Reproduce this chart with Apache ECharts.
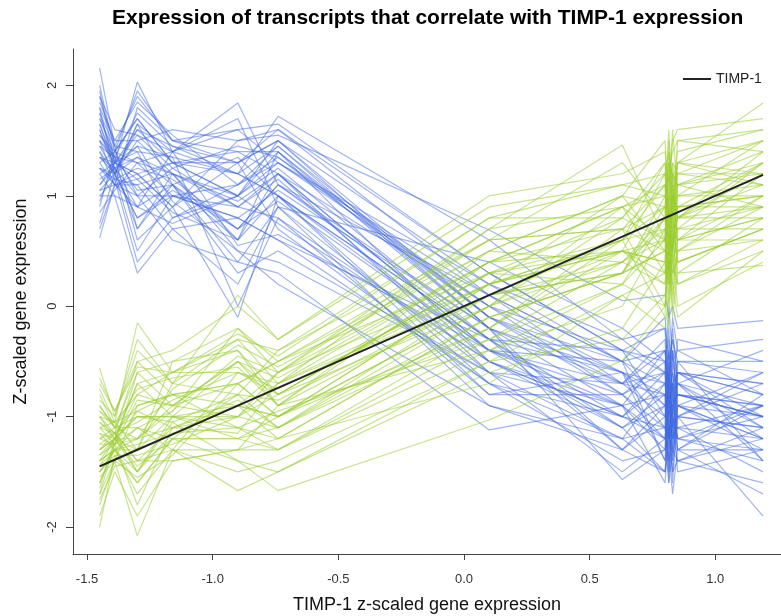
<!DOCTYPE html>
<html>
<head>
<meta charset="utf-8">
<title>TIMP-1 correlated transcripts</title>
<script src="https://cdn.jsdelivr.net/npm/echarts@6/dist/echarts.min.js"></script>
<style>
  html, body { margin: 0; padding: 0; background: #fff; }
  #chart { width: 781px; height: 616px; }
</style>
</head>
<body>
<div id="chart"></div>
<script>
// samples, ordered by TIMP-1 z-score (x position of every line)
const sampleX = [-1.45, -1.39, -1.30, -1.16, -0.90, -0.74, 0.10, 0.63, 0.80, 0.815, 0.83, 0.85, 1.19]
// TIMP-1 itself, plotted against its own z-score
const timp1 = [-1.45, -1.39, -1.30, -1.16, -0.90, -0.74, 0.10, 0.63, 0.80, 0.815, 0.83, 0.85, 1.19]
const xTicks = [-1.5, -1.0, -0.5, 0.0, 0.5, 1.0]
const yTicks = [-2, -1, 0, 1, 2]

// transcripts negatively correlated with TIMP-1 (blue)
const blueGenes = [
  [2.16, 1.45, 1.9, 1.5, 1.3, 1.6, 0.3, -0.4, -0.6, -0.2, -0.9, -0.5, -0.6],
  [1.95, 1.3, 2.03, 1.4, 1.84, 1.1, 0.1, -0.7, -0.3, -1.0, -0.5, -0.8, -0.9],
  [1.8, 1.2, 1.6, 1.3, 1.0, 1.5, -0.2, -0.9, -1.2, -0.6, -1.4, -0.7, -1.1],
  [1.7, 1.35, 1.75, 1.45, 1.2, 1.72, 0.6, -0.3, -0.2, -0.8, -0.1, -0.4, -0.3],
  [1.6, 1.25, 0.9, 1.1, 0.6, 1.4, -0.5, -1.1, -0.8, -1.5, -1.0, -1.2, -1.3],
  [1.5, 1.3, 1.2, 0.9, -0.1, 1.0, -0.8, -0.6, -1.4, -1.0, -1.6, -0.9, -1.0],
  [1.4, 1.2, 0.5, 1.0, 0.8, 0.6, -0.3, -1.3, -0.9, -1.3, -0.6, -1.1, -1.5],
  [1.3, 1.1, 1.8, 1.5, 1.6, 1.3, 0.2, -0.5, -0.1, -0.5, -0.3, -0.6, -0.7],
  [1.25, 1.15, 1.1, 1.2, 0.5, 0.4, -0.6, -1.5, -1.2, -1.6, -1.3, -1.0, -1.9],
  [1.1, 1.3, 1.4, 0.8, 1.1, 1.45, -0.1, -0.8, -0.5, -1.2, -0.8, -1.3, -0.8],
  [1.0, 1.0, 0.3, 0.7, 0.2, 0.9, -0.9, -1.2, -1.5, -0.9, -1.2, -0.7, -1.2],
  [0.9, 1.4, 1.7, 1.3, 1.4, 1.2, -0.4, -0.7, -0.4, -0.7, -1.0, -0.5, -1.4],
  [0.75, 1.2, 0.8, 1.0, 0.9, 0.8, -0.5, -1.0, -1.1, -1.4, -0.7, -1.2, -0.9],
  [0.62, 1.1, 1.0, 0.6, 0.4, 0.3, -1.12, -0.9, -1.6, -1.1, -1.5, -1.4, -1.1],
  [1.85, 1.5, 1.5, 1.6, 1.5, 1.55, 0.69, 0.05, 0.1, -0.1, 0.0, -0.2, -0.13],
  [2.0, 1.4, 1.3, 1.2, 1.0, 1.3, 0.0, -0.6, -0.7, -0.4, -0.8, -0.3, -0.5],
  [1.55, 1.35, 0.6, 0.9, 1.3, 0.7, -0.7, -1.0, -0.6, -1.2, -0.9, -0.8, -1.0],
  [1.35, 1.25, 1.35, 1.1, 0.7, 1.1, -0.2, -1.57, -1.3, -0.8, -1.1, -1.4, -1.6],
  [1.2, 1.0, 0.9, 1.4, 1.2, 1.0, -0.3, -0.4, -1.0, -0.6, -0.4, -0.9, -0.6],
  [1.45, 1.2, 1.65, 1.1, 0.3, 0.5, -0.6, -1.2, -0.7, -1.5, -1.2, -1.1, -1.2],
  [1.05, 1.1, 1.2, 0.9, 1.5, 1.6, 0.1, -0.5, -0.9, -0.3, -0.6, -0.8, -0.9],
  [1.75, 1.45, 0.7, 1.2, 0.6, 1.2, -0.4, -1.1, -1.5, -1.3, -1.7, -1.3, -1.3],
  [1.65, 1.3, 1.45, 1.35, 0.0, 0.8, -0.8, -0.8, -1.1, -0.5, -1.3, -0.6, -0.7],
  [0.85, 1.05, 1.3, 1.0, 1.1, 1.35, -0.1, -0.6, -0.8, -1.0, -0.7, -1.0, -1.1],
  [1.3, 1.4, 1.0, 1.25, 0.9, 1.15, -0.5, -0.9, -0.4, -0.9, -1.0, -0.6, -0.8],
  [1.9, 1.6, 1.55, 1.4, 1.7, 0.9, 0.4, -0.2, -0.5, -0.7, -0.2, -0.7, -0.4],
  [1.15, 1.25, 1.45, 0.95, 0.5, 0.2, -0.9, -1.3, -1.0, -1.6, -1.0, -1.3, -1.7],
  [1.5, 1.15, 0.4, 0.8, 1.0, 1.25, -0.3, -1.0, -1.2, -0.8, -1.4, -0.9, -1.2],
  [0.95, 1.3, 1.6, 1.45, 1.3, 1.5, 0.2, -0.3, -0.6, 0.0, -0.5, -0.4, -0.8],
  [1.4, 1.1, 1.1, 0.7, 0.8, 0.6, -0.7, -1.4, -1.3, -1.1, -0.8, -1.2, -1.0],
  [1.7, 1.4, 1.95, 1.5, 1.4, 1.4, -0.2, -0.7, -0.8, -1.2, -0.9, -0.7, -1.4],
  [1.25, 1.2, 0.8, 1.05, 0.7, 0.95, -0.4, -0.5, -1.4, -0.6, -1.1, -1.0, -0.6],
  [1.35, 1.3, 1.15, 1.3, 1.2, 1.45, -0.2, -0.6, -0.9, -0.5, -1.1, -0.8, -1.0],
  [1.6, 1.2, 1.5, 1.2, 0.9, 1.2, 0.0, -0.8, -0.6, -1.1, -0.4, -0.9, -1.2],
  [1.1, 1.25, 0.7, 1.1, 0.4, 0.9, -0.6, -0.9, -1.3, -0.7, -1.2, -1.1, -0.9],
  [1.45, 1.35, 1.3, 1.4, 1.6, 1.65, 0.3, -0.4, -0.2, -0.6, -0.3, -0.5, -0.5],
  [0.7, 1.1, 1.15, 0.85, 0.6, 1.0, -0.7, -1.2, -1.1, -1.4, -0.9, -1.5, -1.3],
  [1.8, 1.5, 1.85, 1.55, 1.1, 1.3, 0.1, -0.5, -0.4, -0.9, -0.7, -0.6, -0.8],
  [1.25, 1.1, 0.9, 0.75, 1.0, 0.75, -0.5, -1.0, -0.7, -1.0, -1.5, -1.0, -1.1],
  [1.55, 1.4, 1.7, 1.3, 1.3, 1.5, -0.1, -0.7, -1.0, -0.4, -0.8, -0.6, -1.0],
  [1.0, 1.15, 1.25, 1.15, 0.7, 1.1, -0.3, -1.1, -0.9, -1.3, -1.0, -1.2, -1.4],
  [1.9, 1.45, 1.4, 1.35, 1.2, 1.0, -0.4, -0.8, -1.2, -0.8, -0.6, -1.0, -0.7],
  [1.2, 1.3, 1.55, 1.25, 1.45, 1.35, 0.0, -0.4, -0.5, -0.9, -0.4, -0.7, -0.9],
  [1.65, 1.25, 1.0, 1.0, 0.8, 1.05, -0.2, -1.3, -1.5, -1.1, -1.3, -1.4, -1.2],
  [1.35, 1.2, 1.35, 1.2, 0.95, 1.2, -0.6, -0.7, -0.6, -1.2, -0.9, -0.8, -1.0],
  [1.5, 1.35, 1.05, 1.1, 1.35, 1.0, -0.3, -0.6, -1.1, -0.6, -1.2, -0.9, -1.3],
  [1.05, 1.2, 1.65, 1.4, 0.55, 0.65, -0.4, -0.9, -0.8, -1.0, -0.7, -1.3, -0.9],
  [1.75, 1.3, 1.2, 1.3, 1.0, 1.4, -0.1, -0.5, -0.7, -0.8, -1.0, -0.6, -1.1]
]

// transcripts positively correlated with TIMP-1 (green)
const greenGenes = [
  [-0.56, -1.0, -0.3, -0.7, 0.1, -0.3, 0.9, 1.1, 1.0, 1.6, 0.9, 1.3, 1.84],
  [-0.8, -1.1, -0.6, -0.5, -0.2, -0.6, 0.7, 1.46, 0.6, 1.2, 1.4, 1.5, 1.6],
  [-1.0, -1.2, -1.2, -0.9, -0.5, -0.8, 0.3, 0.5, 1.2, 0.4, 1.1, 0.6, 1.2],
  [-1.2, -1.15, -0.9, -0.8, -0.9, -1.0, 0.0, 0.9, 0.3, 1.0, 0.5, 1.1, 0.9],
  [-1.4, -1.3, -1.5, -1.0, -1.2, -1.3, -0.3, 0.2, 0.8, 0.1, 0.7, 0.4, 0.7],
  [-1.6, -1.25, -1.8, -1.1, -1.0, -0.7, 0.2, 0.6, -0.1, 0.8, 0.2, 0.9, 1.0],
  [-1.8, -1.4, -2.08, -1.3, -1.67, -1.5, -0.6, -0.2, 0.4, -0.2, 0.6, 0.2, 0.5],
  [-2.0, -1.35, -1.6, -1.2, -1.4, -1.67, -1.03, -0.49, 0.0, 0.5, -0.1, 0.3, 0.37],
  [-1.1, -1.05, -0.15, -0.6, -0.4, -0.9, 0.5, 1.0, 1.5, 0.7, 1.3, 0.8, 1.4],
  [-1.3, -1.2, -0.8, -0.9, -0.7, -0.5, 0.6, 0.7, 0.9, 1.3, 0.8, 1.2, 1.1],
  [-0.9, -1.1, -1.0, -1.0, -1.1, -1.2, -0.1, 0.3, 0.5, 0.0, 0.4, 0.6, 0.8],
  [-1.5, -1.3, -1.3, -0.7, -0.3, -0.4, 0.8, 0.8, 1.3, 0.9, 1.6, 1.0, 1.5],
  [-1.7, -1.25, -1.1, -1.2, -0.8, -1.1, 0.1, 0.4, 0.2, 0.6, 0.0, 0.5, 0.6],
  [-1.25, -1.15, -1.4, -1.4, -1.3, -0.9, -0.4, 0.0, 0.7, 0.3, 0.9, 0.7, 0.9],
  [-0.7, -0.95, -0.5, -0.4, 0.0, -0.3, 1.0, 1.2, 1.4, 1.1, 1.5, 1.6, 1.7],
  [-1.45, -1.3, -1.7, -1.3, -1.5, -1.4, -0.5, -0.3, 0.1, 0.4, 0.2, -0.1, 0.5],
  [-1.05, -1.2, -0.7, -0.6, -0.6, -0.7, 0.4, 0.9, 1.1, 0.5, 1.0, 0.9, 1.3],
  [-1.35, -1.25, -1.2, -1.1, -0.9, -0.6, 0.2, 0.5, 0.4, 0.9, 0.6, 0.8, 0.8],
  [-1.55, -1.4, -0.9, -0.8, -1.1, -1.3, -0.2, 0.6, 0.9, 0.2, 1.2, 0.5, 1.0],
  [-0.95, -1.05, -1.3, -0.5, -0.4, -0.8, 0.3, 0.2, 0.6, 1.4, 0.7, 1.1, 1.2],
  [-1.15, -1.3, -1.6, -1.2, -1.2, -1.0, -0.2, 0.7, 0.0, 0.6, 0.3, 0.4, 0.7],
  [-1.65, -1.2, -1.0, -1.0, -0.5, -0.9, 0.1, 0.3, 1.0, 0.7, 0.8, 1.3, 1.1],
  [-0.85, -1.0, -0.4, -0.7, -0.8, -0.4, 0.6, 1.3, 0.8, 1.5, 1.1, 1.4, 1.6],
  [-1.9, -1.5, -1.9, -1.4, -1.3, -1.2, -0.7, 0.1, -0.2, 0.1, 0.5, 0.0, 0.4],
  [-1.2, -1.1, -1.1, -0.95, -0.2, -0.5, 0.5, 0.4, 0.7, 0.2, 0.6, 0.9, 0.9],
  [-1.5, -1.35, -1.35, -1.25, -1.0, -1.1, 0.0, 0.8, 1.2, 0.8, 0.4, 0.7, 1.3],
  [-1.0, -1.15, -0.5, -0.8, -0.7, -1.0, 0.2, 1.0, 0.5, 1.0, 1.3, 1.2, 1.5],
  [-1.3, -1.2, -1.0, -1.05, -1.4, -1.5, -0.5, 0.1, 0.3, 0.5, 0.1, 0.6, 0.6],
  [-1.75, -1.45, -1.4, -1.3, -0.6, -0.8, 0.3, 0.6, 1.1, 0.6, 1.0, 0.8, 1.2],
  [-0.75, -1.05, -0.8, -0.6, -0.3, -0.7, 0.7, 0.9, 0.6, 1.2, 0.8, 1.5, 1.4],
  [-1.4, -1.2, -1.5, -1.15, -0.9, -1.2, -0.1, 0.3, 0.8, 0.3, 0.9, 0.3, 0.8],
  [-1.1, -1.25, -0.85, -0.9, -1.0, -0.6, 0.4, 0.5, 0.2, 0.7, 0.5, 1.0, 1.0],
  [-1.1, -1.15, -1.05, -0.85, -0.6, -0.75, 0.2, 0.6, 0.7, 0.9, 0.7, 0.8, 1.1],
  [-1.35, -1.2, -0.7, -1.0, -0.9, -1.0, 0.0, 0.5, 0.3, 0.6, 1.0, 0.6, 0.8],
  [-0.9, -1.1, -1.2, -0.75, -0.35, -0.55, 0.5, 1.0, 0.9, 1.3, 1.2, 1.1, 1.3],
  [-1.6, -1.3, -1.25, -1.15, -1.1, -0.95, -0.3, 0.4, 0.6, 0.2, 0.6, 0.7, 0.7],
  [-1.2, -1.25, -0.6, -0.9, -0.5, -0.65, 0.4, 0.7, 1.1, 0.8, 0.9, 1.3, 1.2],
  [-1.45, -1.2, -1.45, -1.2, -1.2, -1.1, -0.1, 0.3, 0.5, 0.4, 0.3, 0.5, 0.9],
  [-1.0, -1.05, -0.95, -0.8, -0.7, -0.5, 0.3, 0.8, 0.6, 1.0, 0.9, 0.9, 1.0],
  [-1.3, -1.15, -1.5, -1.05, -0.8, -0.85, 0.1, 0.6, 1.3, 0.5, 1.1, 0.8, 1.3],
  [-0.65, -0.95, -0.55, -0.6, -0.25, -0.45, 0.8, 1.1, 1.2, 1.4, 1.0, 1.3, 1.5],
  [-1.5, -1.3, -1.1, -1.3, -1.3, -1.3, -0.4, 0.2, 0.0, 0.4, 0.4, 0.2, 0.6],
  [-1.15, -1.2, -1.3, -1.0, -1.0, -0.8, 0.0, 0.4, 0.8, 0.6, 0.7, 0.6, 1.0],
  [-1.7, -1.4, -1.55, -1.35, -0.7, -1.0, 0.2, 0.5, 0.4, 0.9, 0.5, 1.0, 1.1],
  [-0.95, -1.1, -0.75, -0.65, -0.55, -0.9, 0.4, 0.9, 1.0, 0.7, 1.2, 1.1, 1.4],
  [-1.25, -1.25, -0.95, -1.1, -1.15, -0.7, 0.1, 0.3, 0.9, 0.3, 0.8, 0.4, 0.7],
  [-1.4, -1.3, -1.2, -0.95, -0.45, -0.6, 0.6, 0.7, 0.5, 1.1, 0.6, 1.2, 1.2],
  [-1.05, -1.15, -1.4, -1.1, -0.85, -1.1, -0.2, 0.5, 0.6, 0.3, 0.5, 0.8, 0.9]
]

const FONT = 'Liberation Sans, Arial, sans-serif'

function geneSeries (rows, color) {
  return rows.map(function (row) {
    return {
      type: 'line',
      data: row.map(function (v, i) { return [sampleX[i], v] }),
      symbol: 'none',
      silent: true,
      z: 2,
      lineStyle: { color: color, width: 1.2 }
    }
  })
}

let series = []
series = series.concat(geneSeries(blueGenes, 'rgba(65,105,225,0.5)'))
series = series.concat(geneSeries(greenGenes, 'rgba(154,205,50,0.55)'))
series.push({
  name: 'TIMP-1',
  type: 'line',
  data: timp1.map(function (v, i) { return [sampleX[i], v] }),
  symbol: 'none',
  z: 5,
  itemStyle: { color: '#222' },
  lineStyle: { color: '#222', width: 2 }
})

const axisColor = '#444'

const chart = echarts.init(document.getElementById('chart'), null, { renderer: 'canvas' })
chart.setOption({
  animation: false,
  backgroundColor: '#fff',
  graphic: [{
    type: 'text',
    left: 112,
    top: 8,
    style: {
      text: 'Expression of transcripts that correlate with TIMP-1 expression',
      font: 'bold 21px ' + FONT,
      fill: '#000'
    }
  }],
  legend: {
    data: ['TIMP-1'],
    left: 678,
    top: 67,
    icon: 'rect',
    itemWidth: 28,
    itemHeight: 2,
    textStyle: { fontFamily: FONT, fontSize: 14, color: '#222' }
  },
  grid: {
    left: 73,
    right: 0,
    top: 49,
    bottom: 62,
    // keep the plot box fixed, names may sit outside it
    outerBoundsMode: 'none'
  },
  xAxis: {
    type: 'value',
    min: -1.556,
    max: 1.2614,
    name: 'TIMP-1 z-scaled gene expression',
    nameLocation: 'middle',
    nameGap: 42,
    nameTextStyle: { fontFamily: FONT, fontSize: 18, color: '#111' },
    splitLine: { show: false },
    axisLine: { onZero: false, lineStyle: { color: axisColor, width: 1 } },
    axisTick: {
      customValues: xTicks,
      length: 6,
      lineStyle: { color: axisColor }
    },
    axisLabel: {
      customValues: xTicks,
      margin: 19,
      fontFamily: FONT,
      fontSize: 13,
      color: '#333',
      formatter: function (v) { return v.toFixed(1) }
    }
  },
  yAxis: {
    type: 'value',
    min: -2.244,
    max: 2.33,
    name: 'Z-scaled gene expression',
    nameLocation: 'middle',
    nameGap: 43,
    nameTextStyle: { fontFamily: FONT, fontSize: 18, color: '#111' },
    splitLine: { show: false },
    axisLine: { onZero: false, lineStyle: { color: axisColor, width: 1 } },
    axisTick: {
      customValues: yTicks,
      length: 7,
      lineStyle: { color: axisColor }
    },
    axisLabel: {
      customValues: yTicks,
      rotate: 90,
      margin: 14,
      fontFamily: FONT,
      fontSize: 13,
      color: '#333'
    }
  },
  series: series
})
</script>
</body>
</html>
